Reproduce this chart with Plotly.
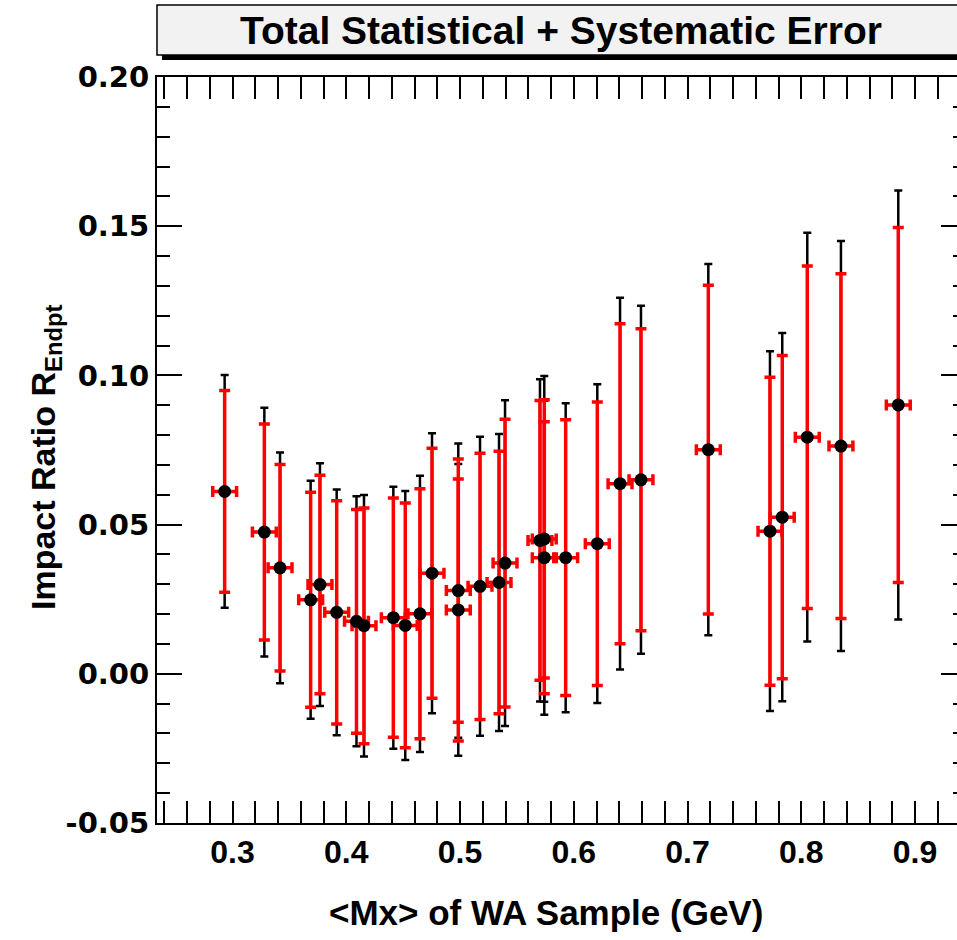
import plotly.graph_objects as go

# ---- data ----
mx = [0.2931, 0.3280, 0.3418, 0.3687, 0.3769, 0.3916, 0.4090, 0.4156, 0.4414, 0.4519,
      0.4648, 0.4754, 0.4985, 0.4985, 0.5176, 0.5343, 0.5396, 0.5703, 0.5741, 0.5741,
      0.5929, 0.6207, 0.6407, 0.6591, 0.7183, 0.7725, 0.7833, 0.8053, 0.8349, 0.8853]
ratio = [0.0611, 0.0475, 0.0355, 0.0248, 0.0299, 0.0206, 0.0176, 0.0161, 0.0188, 0.0162,
         0.0201, 0.0337, 0.0279, 0.0214, 0.0293, 0.0306, 0.0371, 0.0447, 0.0452, 0.0389,
         0.0389, 0.0436, 0.0637, 0.0650, 0.0751, 0.0478, 0.0525, 0.0793, 0.0763, 0.0901]
err_stat = [0.0338, 0.0362, 0.0346, 0.0360, 0.0366, 0.0374, 0.0375, 0.0395, 0.0401, 0.0410,
            0.0419, 0.0419, 0.0441, 0.0439, 0.0446, 0.0440, 0.0482, 0.0469, 0.0466, 0.0456,
            0.0462, 0.0475, 0.0536, 0.0506, 0.0551, 0.0516, 0.0542, 0.0574, 0.0578, 0.0595]
err_total = [0.0390, 0.0417, 0.0387, 0.0399, 0.0407, 0.0412, 0.0419, 0.0438, 0.0439, 0.0451,
             0.0463, 0.0469, 0.0493, 0.0489, 0.0501, 0.0498, 0.0546, 0.0540, 0.0546, 0.0526,
             0.0518, 0.0534, 0.0623, 0.0583, 0.0622, 0.0603, 0.0617, 0.0685, 0.0687, 0.0719]
err_x = [0.0105] * len(mx)

x_tickvals = [0.3, 0.4, 0.5, 0.6, 0.7, 0.8, 0.9]
x_ticktext = ["0.3", "0.4", "0.5", "0.6", "0.7", "0.8", "0.9"]
y_tickvals = [-0.05, 0.0, 0.05, 0.10, 0.15, 0.20]
y_ticktext = ["-0.05", "0.00", "0.05", "0.10", "0.15", "0.20"]

title_text = "Total Statistical + Systematic Error"
x_title = "&lt;Mx&gt; of WA Sample (GeV)"
y_title = "Impact Ratio R<sub>Endpt</sub>"

SANS = "Liberation Sans, Arial, sans-serif"

fig = go.Figure()
# total error (black, behind)
fig.add_trace(go.Scatter(
    x=mx, y=ratio, mode="markers",
    marker=dict(size=1, color="rgba(0,0,0,0)"),
    error_y=dict(type="data", array=err_total, visible=True, color="black",
                 thickness=2.5, width=4),
    showlegend=False, hoverinfo="skip"))
# statistical error (red) with points
fig.add_trace(go.Scatter(
    x=mx, y=ratio, mode="markers",
    marker=dict(size=13, color="black"),
    error_y=dict(type="data", array=err_stat, visible=True, color="#ff0000",
                 thickness=3.5, width=5.5),
    error_x=dict(type="data", array=err_x, visible=True, color="#ff0000",
                 thickness=3.5, width=5.5),
    showlegend=False))
# empty trace to carry the right-hand tick axis
fig.add_trace(go.Scatter(x=[], y=[], yaxis="y2", showlegend=False))

fig.update_layout(
    width=957, height=940,
    margin=dict(l=157, r=0, t=77, b=117),
    plot_bgcolor="white", paper_bgcolor="white",
    xaxis=dict(range=[0.23363, 0.93692], tickvals=x_tickvals, ticktext=x_ticktext,
               showline=True, linecolor="black", linewidth=2, mirror="allticks",
               ticks="inside", ticklen=22, tickwidth=1.5, tickcolor="black",
               minor=dict(dtick=0.02, ticks="inside", ticklen=11, tickwidth=1.5,
                          tickcolor="black", showgrid=False),
               showgrid=False, zeroline=False,
               tickfont=dict(family=SANS, size=32, color="black", weight="bold")),
    yaxis=dict(range=[-0.05, 0.20], tickvals=y_tickvals, ticktext=y_ticktext,
               showline=True, linecolor="black", linewidth=2, mirror=False,
               ticks="inside", ticklen=25, tickwidth=1.5, tickcolor="black",
               minor=dict(dtick=0.01, ticks="inside", ticklen=13, tickwidth=1.5,
                          tickcolor="black", showgrid=False),
               showgrid=False, zeroline=False,
               tickfont=dict(family="DejaVu Sans", size=29, color="black", weight="bold")),
    yaxis2=dict(overlaying="y", side="right", matches="y", range=[-0.05, 0.20],
                tickvals=y_tickvals, showticklabels=False, showline=False,
                ticks="inside", ticklen=16, tickwidth=1.5, tickcolor="black",
                minor=dict(dtick=0.01, ticks="inside", ticklen=4, tickwidth=1.5,
                           tickcolor="black", showgrid=False),
                showgrid=False, zeroline=False),
    shapes=[
        dict(type="rect", xref="paper", yref="paper",
             x0=5 / 800, x1=1.05, y0=(823 - 60) / 746, y1=(823 - 10) / 746,
             fillcolor="black", line=dict(width=0), layer="above"),
        dict(type="rect", xref="paper", yref="paper",
             x0=0, x1=1.05, y0=(823 - 55) / 746, y1=(823 - 5) / 746,
             fillcolor="#f2f2f2", line=dict(color="black", width=1.5), layer="above"),
    ],
    annotations=[
        dict(text="<b>" + title_text + "</b>", xref="paper", yref="paper",
             x=(561 - 157) / 800, y=(823 - 31) / 746, xanchor="center", yanchor="middle",
             showarrow=False, font=dict(family=SANS, size=39, color="black")),
        dict(text="<b>" + x_title + "</b>", xref="paper", yref="paper",
             x=(546 - 157) / 800, y=(823 - 912) / 746, xanchor="center", yanchor="middle",
             showarrow=False, font=dict(family=SANS, size=35, color="black")),
        dict(text="<b>" + y_title + "</b>", xref="paper", yref="paper",
             x=(45 - 157) / 800, y=(823 - 457) / 746, xanchor="center", yanchor="middle",
             textangle=-90, showarrow=False, font=dict(family=SANS, size=34, color="black")),
    ],
)

fig.write_html("out.html")
